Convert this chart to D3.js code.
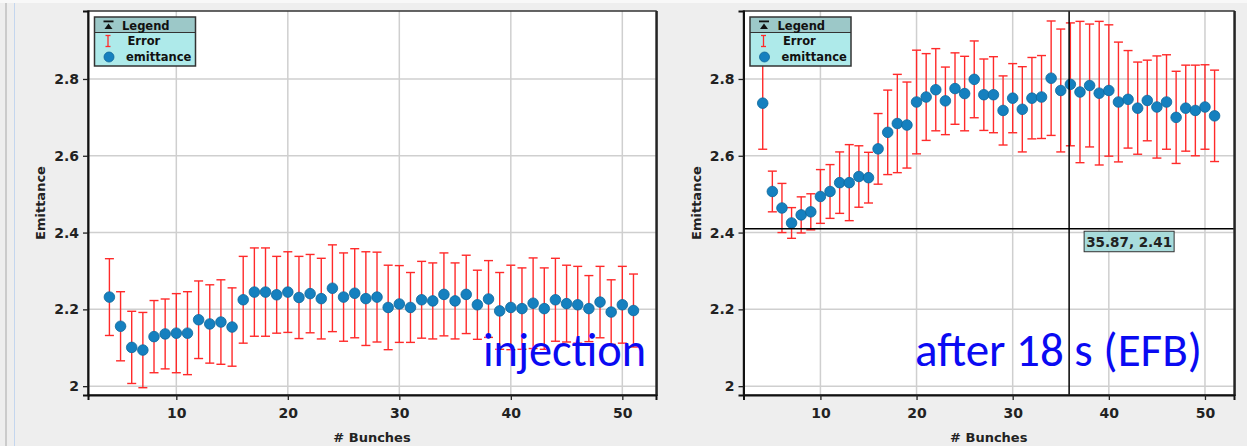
<!DOCTYPE html>
<html>
<head>
<meta charset="utf-8">
<script src="https://cdn.jsdelivr.net/npm/d3@7"></script>
<style>
  body { margin: 0; background: #eeeeee; }
  svg { display: block; }
</style>
</head>
<body>
<div id="chart"></div>
<script>
// data
var bunches = [4,5,6,7,8,9,10,11,12,13,14,15,16,17,18,19,20,21,22,23,24,25,26,27,
               28,29,30,31,32,33,34,35,36,37,38,39,40,41,42,43,44,45,46,47,48,49,50,51];

var injEmit = [2.232,2.156,2.101,2.094,2.129,2.136,2.138,2.138,2.173,2.162,2.167,2.154,
               2.225,2.245,2.245,2.238,2.245,2.231,2.241,2.228,2.255,2.232,2.242,2.228,
               2.232,2.205,2.214,2.205,2.225,2.222,2.239,2.222,2.239,2.212,2.227,2.196,
               2.205,2.202,2.216,2.202,2.225,2.215,2.212,2.202,2.219,2.193,2.212,2.197];
var injErr  = [0.100,0.090,0.094,0.098,0.094,0.091,0.103,0.108,0.101,0.102,0.110,0.102,
               0.113,0.115,0.115,0.100,0.105,0.107,0.102,0.105,0.113,0.115,0.116,0.122,
               0.117,0.110,0.100,0.091,0.100,0.099,0.108,0.099,0.102,0.090,0.100,0.100,
               0.110,0.106,0.118,0.106,0.108,0.100,0.100,0.086,0.093,0.084,0.100,0.095];

var efbEmit = [2.737,2.507,2.464,2.425,2.446,2.454,2.494,2.507,2.530,2.530,2.546,2.543,
               2.618,2.661,2.684,2.680,2.740,2.753,2.772,2.743,2.775,2.762,2.799,2.759,
               2.759,2.718,2.750,2.721,2.750,2.753,2.802,2.770,2.786,2.766,2.783,2.763,
               2.770,2.740,2.747,2.724,2.744,2.727,2.740,2.700,2.724,2.718,2.727,2.704];
var efbErr  = [0.120,0.053,0.064,0.040,0.047,0.047,0.070,0.070,0.080,0.099,0.080,0.066,
               0.092,0.110,0.128,0.112,0.135,0.113,0.107,0.088,0.093,0.097,0.100,0.093,
               0.099,0.090,0.090,0.111,0.106,0.108,0.149,0.160,0.160,0.184,0.160,0.187,
               0.171,0.156,0.127,0.120,0.105,0.133,0.123,0.120,0.112,0.118,0.110,0.119];

var xTicks = [10,20,30,40,50];
var yTicks = [2.0,2.2,2.4,2.6,2.8];
var legendItems = ["Error","emittance"];
var cursor = {x: 35.87, y: 2.41};

var W = 1247, H = 446;
var font = "'DejaVu Sans', Verdana, sans-serif";

var svg = d3.select("#chart").append("svg")
    .attr("width", W)
    .attr("height", H);

// window edge decoration
svg.append("rect").attr("x",0).attr("y",0).attr("width",W).attr("height",3).attr("fill","#f8f8f8");
svg.append("line").attr("x1",6).attr("x2",6).attr("y1",3).attr("y2",H)
    .attr("stroke","#a8a8a8").attr("stroke-width",1);
svg.append("line").attr("x1",14.5).attr("x2",14.5).attr("y1",3).attr("y2",H)
    .attr("stroke","#c4d6ee").attr("stroke-width",1);

function drawPanel(cfg){
    var x = d3.scaleLinear().domain(cfg.xDomain).range([cfg.left, cfg.right]);
    var y = d3.scaleLinear().domain([1.977, 2.977]).range([cfg.bottom, cfg.top]);

    var g = svg.append("g");

    g.append("rect")
        .attr("x", cfg.left).attr("y", cfg.top)
        .attr("width", cfg.right - cfg.left)
        .attr("height", cfg.bottom - cfg.top)
        .attr("fill", "#ffffff");

    // grid
    g.selectAll(".vg").data(xTicks).enter().append("line")
        .attr("x1", d => x(d)).attr("x2", d => x(d))
        .attr("y1", cfg.top).attr("y2", cfg.bottom)
        .attr("stroke", "#cfcfcf").attr("stroke-width", 1.5);
    g.selectAll(".hg").data(yTicks).enter().append("line")
        .attr("x1", cfg.left).attr("x2", cfg.right)
        .attr("y1", d => y(d)).attr("y2", d => y(d))
        .attr("stroke", "#cfcfcf").attr("stroke-width", 1.5);

    // error bars
    var eb = g.append("g").attr("stroke", "#ff2a2a").attr("stroke-width", 1.4);
    var data = bunches.map((b, i) => ({b: b, v: cfg.emit[i], e: cfg.err[i]}));
    eb.selectAll(".stem").data(data).enter().append("line")
        .attr("x1", d => x(d.b)).attr("x2", d => x(d.b))
        .attr("y1", d => y(d.v + d.e)).attr("y2", d => y(d.v - d.e));
    eb.selectAll(".capt").data(data).enter().append("line")
        .attr("x1", d => x(d.b) - 4.5).attr("x2", d => x(d.b) + 4.5)
        .attr("y1", d => y(d.v + d.e)).attr("y2", d => y(d.v + d.e));
    eb.selectAll(".capb").data(data).enter().append("line")
        .attr("x1", d => x(d.b) - 4.5).attr("x2", d => x(d.b) + 4.5)
        .attr("y1", d => y(d.v - d.e)).attr("y2", d => y(d.v - d.e));

    // points
    g.selectAll(".pt").data(data).enter().append("circle")
        .attr("cx", d => x(d.b)).attr("cy", d => y(d.v))
        .attr("r", 5.3)
        .attr("fill", "#1580bf")
        .attr("stroke", "#0e679b").attr("stroke-width", 0.8);

    // big annotation text (sits over the bars)
    g.append("text")
        .attr("x", cfg.labelX).attr("y", 366)
        .attr("font-family", "Carlito, 'Open Sans', sans-serif")
        .attr("font-size", 48)
        .attr("fill", "#0a0af2")
        .attr("textLength", cfg.labelW)
        .attr("lengthAdjust", "spacingAndGlyphs")
        .text(cfg.label);

    // crosshair
    if (cfg.cursor) {
        var cx = x(cfg.cursor.x), cy = y(cfg.cursor.y);
        g.append("line").attr("x1", cx).attr("x2", cx)
            .attr("y1", cfg.top).attr("y2", cfg.bottom)
            .attr("stroke", "#000").attr("stroke-width", 1.5);
        g.append("line").attr("x1", cfg.left).attr("x2", cfg.right)
            .attr("y1", cy).attr("y2", cy)
            .attr("stroke", "#000").attr("stroke-width", 1.5);
        g.append("rect")
            .attr("x", cx + 15).attr("y", cy + 2.5)
            .attr("width", 90).attr("height", 20.5)
            .attr("fill", "#a8dcdc").attr("stroke", "#333").attr("stroke-width", 1);
        g.append("text")
            .attr("x", cx + 60).attr("y", cy + 18)
            .attr("text-anchor", "middle")
            .attr("font-family", font).attr("font-weight", "bold")
            .attr("font-size", 13.5).attr("fill", "#222")
            .text(d3.format(".2f")(cfg.cursor.x) + ", " + d3.format(".2f")(cfg.cursor.y));
    }

    // frame
    g.append("rect")
        .attr("x", cfg.left).attr("y", cfg.top)
        .attr("width", cfg.right - cfg.left)
        .attr("height", cfg.bottom - cfg.top)
        .attr("fill", "none").attr("stroke", "#333").attr("stroke-width", 1.5);
    g.append("line").attr("x1", cfg.right + 1).attr("x2", cfg.right + 1)
        .attr("y1", cfg.top).attr("y2", cfg.bottom + 1)
        .attr("stroke", "#111").attr("stroke-width", 1.5);

    // axes
    var xAxis = d3.axisBottom(x).tickValues(xTicks).tickSize(5).tickPadding(8)
        .tickFormat(d3.format("d"));
    var ga = g.append("g").attr("transform", "translate(0," + cfg.bottom + ")").call(xAxis);
    var yAxis = d3.axisLeft(y).tickValues(yTicks).tickSize(5).tickPadding(4)
        .tickFormat(d3.format("~g"));
    var gy = g.append("g").attr("transform", "translate(" + cfg.left + ",0)").call(yAxis);
    [ga, gy].forEach(function(a){
        a.select(".domain").attr("stroke", "#111").attr("stroke-width", 2);
        a.selectAll(".tick line").attr("stroke", "#222").attr("stroke-width", 1.3);
        a.selectAll(".tick text")
            .attr("font-family", font).attr("font-weight", "bold")
            .attr("font-size", 14).attr("fill", "#222");
    });

    // axis titles
    g.append("text")
        .attr("x", (cfg.left + cfg.right) / 2).attr("y", 442)
        .attr("text-anchor", "middle")
        .attr("font-family", font).attr("font-weight", "bold")
        .attr("font-size", 13).attr("fill", "#222")
        .text("# Bunches");
    g.append("text")
        .attr("transform", "translate(" + (cfg.left - 43) + "," + ((cfg.top + cfg.bottom) / 2) + ") rotate(-90)")
        .attr("text-anchor", "middle")
        .attr("font-family", font).attr("font-weight", "bold")
        .attr("font-size", 13).attr("fill", "#222")
        .text("Emittance");

    // legend
    var lx = cfg.left + 6.5, ly = cfg.top + 6;
    var lg = g.append("g").attr("transform", "translate(" + lx + "," + ly + ")");
    lg.append("rect").attr("width", 101).attr("height", 49)
        .attr("fill", "#aeeaea");
    lg.append("rect").attr("width", 101).attr("height", 15.5)
        .attr("fill", "#9cc8c8");
    lg.append("line").attr("x1", 0).attr("x2", 101).attr("y1", 15.5).attr("y2", 15.5)
        .attr("stroke", "#333").attr("stroke-width", 1);
    lg.append("rect").attr("width", 101).attr("height", 49)
        .attr("fill", "none").attr("stroke", "#333").attr("stroke-width", 1.5);
    // collapse icon
    lg.append("rect").attr("x", 9).attr("y", 3.5).attr("width", 10).attr("height", 1.8).attr("fill", "#111");
    lg.append("path").attr("d", "M10,12 L18,12 L14,6.5 Z").attr("fill", "#111");
    lg.append("text").attr("x", 27.5).attr("y", 12.5)
        .attr("font-family", font).attr("font-weight", "bold")
        .attr("font-size", 11.5).attr("fill", "#111")
        .text("Legend");
    lg.selectAll(".li").data(legendItems).enter().append("text")
        .attr("x", (d, i) => i === 0 ? 33 : 31.5)
        .attr("y", (d, i) => 28 + i * 16)
        .attr("font-family", font).attr("font-weight", "bold")
        .attr("font-size", 11.5).attr("fill", "#111")
        .text(d => d);
    // error glyph
    lg.append("line").attr("x1", 13.5).attr("x2", 13.5).attr("y1", 18.5).attr("y2", 29.5)
        .attr("stroke", "#ff2a2a").attr("stroke-width", 1.3);
    lg.append("line").attr("x1", 11).attr("x2", 16).attr("y1", 18.5).attr("y2", 18.5)
        .attr("stroke", "#ff2a2a").attr("stroke-width", 1.3);
    lg.append("line").attr("x1", 11).attr("x2", 16).attr("y1", 29.5).attr("y2", 29.5)
        .attr("stroke", "#ff2a2a").attr("stroke-width", 1.3);
    lg.append("circle").attr("cx", 14.5).attr("cy", 40).attr("r", 5)
        .attr("fill", "#1580bf").attr("stroke", "#0e679b").attr("stroke-width", 0.8);
}

drawPanel({left: 88, right: 656, top: 11, bottom: 395, xDomain: [2.08, 53.02],
           emit: injEmit, err: injErr, label: "injection", labelX: 483, labelW: 163});
drawPanel({left: 743.5, right: 1234, top: 11, bottom: 395, xDomain: [2.0, 53.02],
           emit: efbEmit, err: efbErr, label: "after 18 s (EFB)", labelX: 915, labelW: 287,
           cursor: cursor});
</script>
</body>
</html>
